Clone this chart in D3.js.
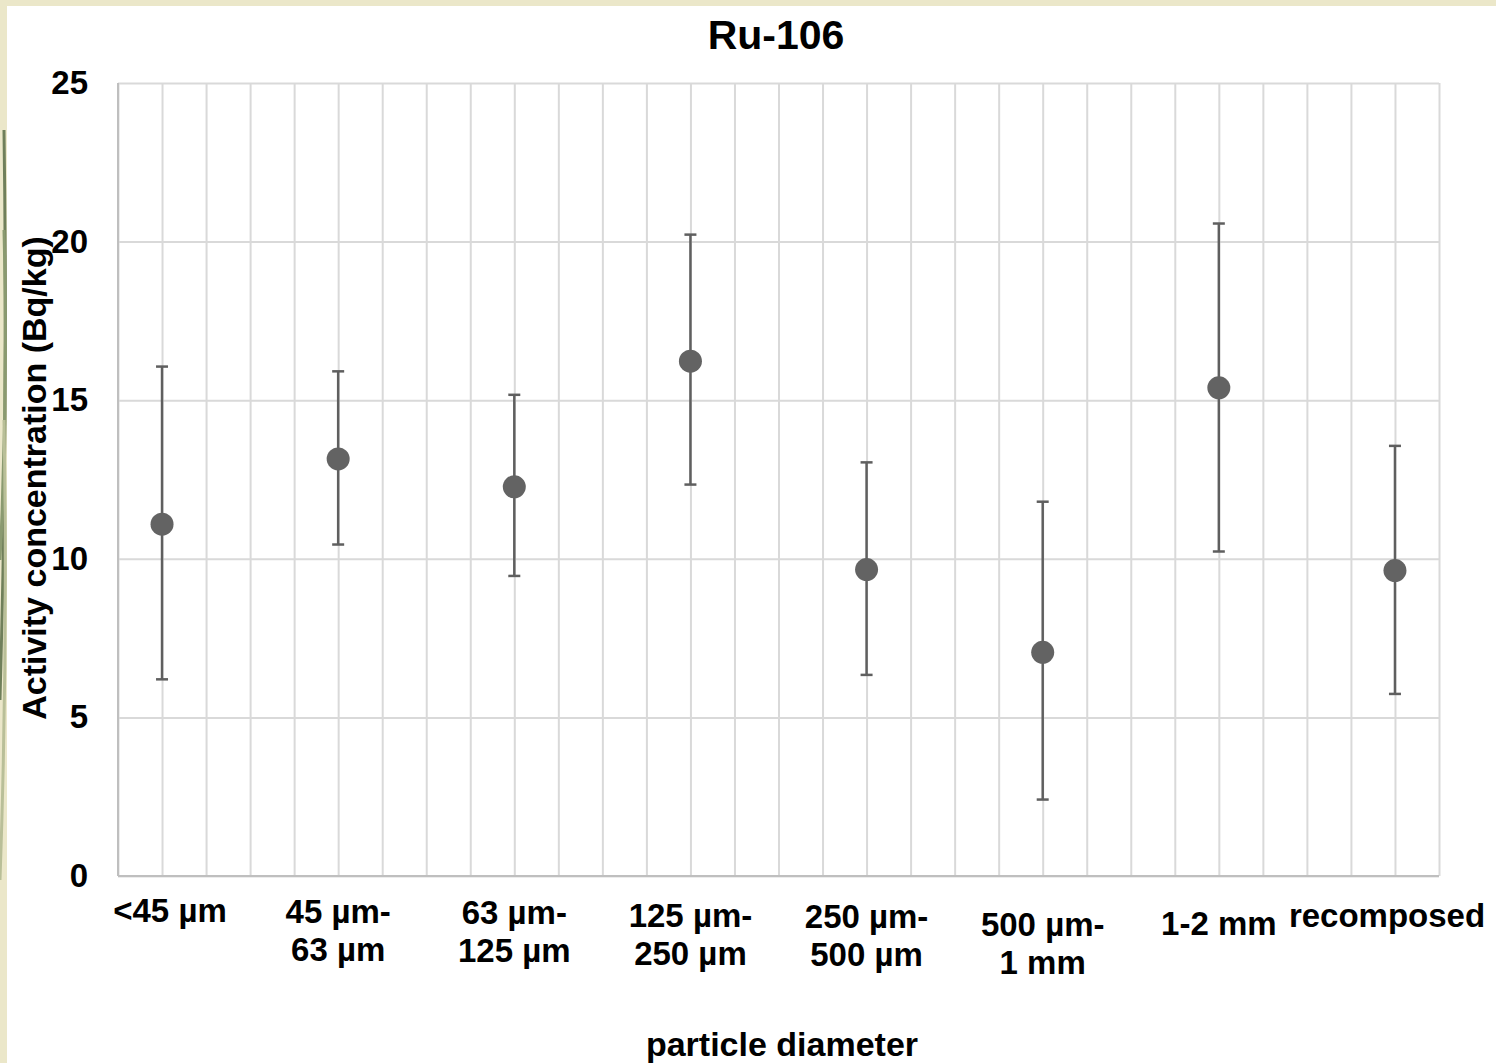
<!DOCTYPE html>
<html>
<head>
<meta charset="utf-8">
<title>Ru-106</title>
<script src="https://cdnjs.cloudflare.com/ajax/libs/d3/7.8.5/d3.min.js"></script>
<style>
body { margin: 0; background: #ffffff; }
svg text { font-family: "Liberation Sans", Arial, sans-serif; font-weight: bold; fill: #000; }
.grid line { stroke: #d9d9d9; stroke-width: 2px; }
.grid path { display: none; }
.yaxis path, .yaxis line { display: none; }
.err { stroke: #5f5f5f; stroke-width: 2.5px; fill: none; }
.dot { fill: #636363; }
</style>
</head>
<body>
<script>

// categories and values (Bq/kg)
var categories = [
  ["<45 µm"],
  ["45 µm-", "63 µm"],
  ["63 µm-", "125 µm"],
  ["125 µm-", "250 µm"],
  ["250 µm-", "500 µm"],
  ["500 µm-", "1 mm"],
  ["1-2 mm"],
  ["recomposed"]
];
var values = [11.09, 13.15, 12.27, 16.23, 9.66, 7.05, 15.39, 9.63];
var upper  = [16.06, 15.91, 15.17, 20.22, 13.04, 11.80, 20.57, 13.56];
var lower  = [6.20, 10.45, 9.46, 12.34, 6.34, 2.41, 10.23, 5.74];
var yTicks = [0, 5, 10, 15, 20, 25];

// small vertical nudges of the category labels, as laid out in the source
var labelNudge = [0, 1, 2, 5, 6, 14, 13, 5];

var width = 1496,
    height = 1063;

var svg = d3.select("body").append("svg")
    .attr("width", width)
    .attr("height", height);

// slide background strip
svg.append("rect").attr("width", width).attr("height", height).attr("fill", "#ebe7c9");
var deco = svg.append("g");
[[130, 700, "#6f7f5a"], [230, 560, "#8a9a70"], [420, 880, "#b9bf98"]].forEach(function(d) {
  deco.append("path")
    .attr("d", "M0," + d[1] + " Q8," + ((d[0] + d[1]) / 2) + " 4," + d[0])
    .attr("stroke", d[2]).attr("stroke-width", 3).attr("fill", "none");
});
svg.append("rect").attr("x", 7).attr("y", 6).attr("width", width - 7).attr("height", height - 6).attr("fill", "#ffffff");

var x = d3.scaleLinear().domain([0, 30]).range([118, 1439]);
var y = d3.scaleLinear().domain([0, 25]).range([876, 83]);

function cx(i) { return x(4 * i + 1); }

// vertical gridlines
svg.append("g")
    .attr("class", "grid")
    .attr("transform", "translate(0,876)")
    .call(d3.axisBottom(x).tickValues(d3.range(0, 31)).tickSize(-(876 - 83)).tickFormat(""));

// horizontal gridlines
svg.append("g")
    .attr("class", "grid")
    .attr("transform", "translate(118,0)")
    .call(d3.axisLeft(y).tickValues(yTicks).tickSize(-(1439 - 118)).tickFormat(""));

// axis lines
svg.append("line").attr("x1", 118).attr("x2", 118).attr("y1", y(25)).attr("y2", y(0))
    .attr("stroke", "#bfbfbf").attr("stroke-width", 2);
svg.append("line").attr("x1", 118).attr("x2", 1439).attr("y1", y(0)).attr("y2", y(0))
    .attr("stroke", "#bfbfbf").attr("stroke-width", 2);

// y tick labels
var ya = svg.append("g")
    .attr("class", "yaxis")
    .attr("transform", "translate(118,0)")
    .call(d3.axisLeft(y).tickValues(yTicks).tickSize(0).tickPadding(30));
ya.selectAll("text")
    .style("font-size", "33px")
    .style("font-family", "'Liberation Sans', Arial, sans-serif")
    .style("font-weight", "bold")
    .attr("fill", "#000");

// error bars
var err = svg.append("g");
values.forEach(function(v, i) {
  var xc = cx(i);
  err.append("line").attr("class", "err")
      .attr("x1", xc).attr("x2", xc).attr("y1", y(upper[i])).attr("y2", y(lower[i]));
  err.append("line").attr("class", "err")
      .attr("x1", xc - 6).attr("x2", xc + 6).attr("y1", y(upper[i])).attr("y2", y(upper[i]));
  err.append("line").attr("class", "err")
      .attr("x1", xc - 6).attr("x2", xc + 6).attr("y1", y(lower[i])).attr("y2", y(lower[i]));
});

// markers
svg.append("g").selectAll("circle")
    .data(values)
  .enter().append("circle")
    .attr("class", "dot")
    .attr("cx", function(d, i) { return cx(i); })
    .attr("cy", function(d) { return y(d); })
    .attr("r", 11.5);

// category labels
var lab = svg.append("g").selectAll("text")
    .data(categories)
  .enter().append("text")
    .attr("text-anchor", "middle")
    .style("font-size", "33px")
    .attr("transform", function(d, i) {
      var xc = Math.min(Math.max(cx(i), 170), 1387);
      return "translate(" + xc + "," + (922 + labelNudge[i]) + ")";
    });
lab.selectAll("tspan")
    .data(function(d) { return d; })
  .enter().append("tspan")
    .attr("x", 0)
    .attr("dy", function(d, j) { return j === 0 ? 0 : 38; })
    .text(function(d) { return d; });

// titles
svg.append("text")
    .attr("x", 776).attr("y", 49)
    .attr("text-anchor", "middle")
    .style("font-size", "41px")
    .text("Ru-106");

svg.append("text")
    .attr("x", 782).attr("y", 1056)
    .attr("text-anchor", "middle")
    .style("font-size", "34px")
    .text("particle diameter");

svg.append("text")
    .attr("transform", "translate(46,478) rotate(-90)")
    .attr("text-anchor", "middle")
    .style("font-size", "34px")
    .text("Activity concentration (Bq/kg)");

</script>
</body>
</html>
